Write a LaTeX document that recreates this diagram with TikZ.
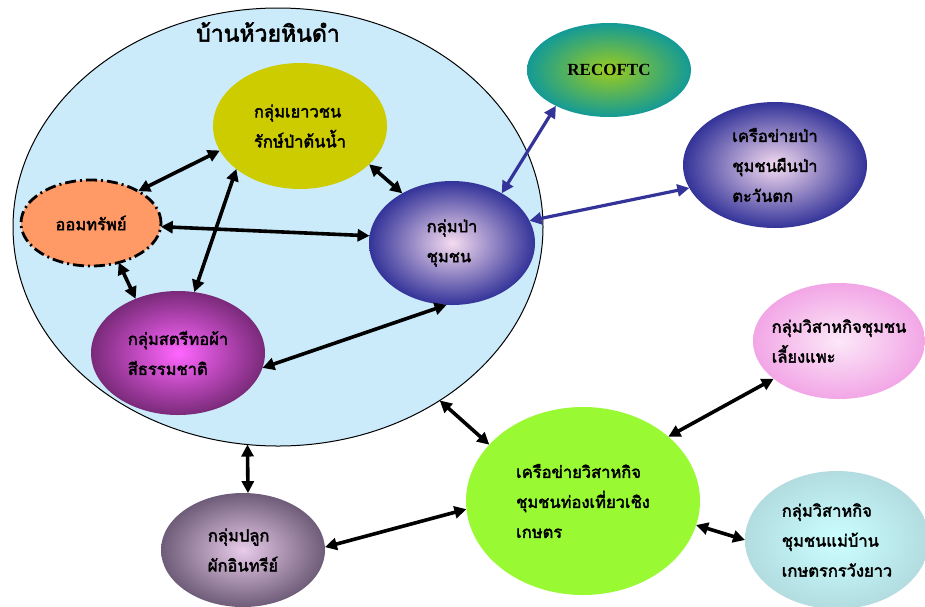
\documentclass[tikz,border=0pt]{standalone}
\usepackage{fontspec}
\setmainfont{Liberation Serif}
\newfontfamily\thai[Script=Thai,AutoFakeBold=2.5]{Loma}
\usetikzlibrary{shapes.geometric,arrows.meta}
\definecolor{bigc}{HTML}{CCEBFA}
\definecolor{yel}{HTML}{CCCC00}
\definecolor{ora}{HTML}{FF9966}
\definecolor{navyb}{HTML}{333399}
\definecolor{pinkin}{HTML}{F6DCF0}
\definecolor{magout}{HTML}{7A2A7A}
\definecolor{magin}{HTML}{FF66FF}
\definecolor{mauout}{HTML}{6E5C78}
\definecolor{mauin}{HTML}{E8CCEA}
\definecolor{tealout}{HTML}{139A96}
\definecolor{tealin}{HTML}{9CCC1E}
\definecolor{pkout}{HTML}{F2A6E6}
\definecolor{pkin}{HTML}{FCE8F8}
\definecolor{grn}{HTML}{99FA33}
\definecolor{cyout}{HTML}{B2DCE0}
\definecolor{cyin}{HTML}{CCFFFF}
\tikzset{
  ell/.style={ellipse, inner sep=0pt, outer sep=0pt, draw=none},
  txt/.style={font=\thai\bfseries\fontsize{16.5}{30}\selectfont, align=left, text=black, inner sep=0pt},
  biarrow/.style={{Triangle[length=12pt,width=12pt]}-{Triangle[length=12pt,width=12pt]}, line width=3.6pt, draw=black},
  bluearrow/.style={biarrow, line width=3.2pt, draw=navyb},
}
\begin{document}
\begin{tikzpicture}[x=1pt,y=-1pt]
\useasboundingbox (0,0) rectangle (925,606);
\clip (0,0) rectangle (925,606);
\fill[white] (0,0) rectangle (925,606);
% village circle
\node[ell, draw=black, line width=1pt, fill=bigc, minimum width=530pt, minimum height=438pt] (vill) at (278,227) {};
\node[font=\thai\bfseries\fontsize{23}{26}\selectfont, inner sep=0pt] (title) at (268,32) {บ้านห้วยหินดำ};
% inner groups
\node[ell, fill=yel, minimum width=174pt, minimum height=126pt,
  label={[txt]center:{กลุ่มเยาวชน\\รักษ์ป่าต้นน้ำ}}] (youth) at (300,126) {};
\node[ell, fill=ora, draw=black, line width=2.8pt, dash pattern=on 11pt off 4pt on 2pt off 4pt,
  minimum width=140pt, minimum height=86pt,
  label={[txt]center:{ออมทรัพย์}}] (save) at (91,223) {};
\node[ell, shade, inner color=pinkin, outer color=navyb, minimum width=166pt, minimum height=124pt,
  label={[txt]center:{กลุ่มป่า\\ชุมชน}}] (forest) at (452,243) {};
\node[ell, shade, inner color=magin, outer color=magout, minimum width=174pt, minimum height=124pt,
  label={[txt]center:{กลุ่มสตรีทอผ้า\\สีธรรมชาติ}}] (weave) at (178,353) {};
% outside groups
\node[ell, shade, inner color=mauin, outer color=mauout, minimum width=164pt, minimum height=114pt,
  label={[txt]center:{กลุ่มปลูก\\ผักอินทรีย์}}] (veg) at (243,550) {};
\node[ell, shade, inner color=tealin, outer color=tealout, minimum width=164pt, minimum height=94pt,
  label={[font=\bfseries\fontsize{17}{20}\selectfont, inner sep=0pt]center:{RECOFTC}}] (recoftc) at (609,70) {};
\node[ell, shade, inner color=pinkin, outer color=navyb, minimum width=184pt, minimum height=126pt,
  label={[txt]center:{เครือข่ายป่า\\ชุมชนผืนป่า\\ตะวันตก}}] (west) at (775,165) {};
\node[ell, shade, inner color=pkin, outer color=pkout, minimum width=172pt, minimum height=116pt,
  label={[txt]center:{กลุ่มวิสาหกิจชุมชน\\เลี้ยงแพะ}}] (goat) at (839,341) {};
\node[ell, fill=grn, minimum width=234pt, minimum height=188pt,
  label={[txt]center:{เครือข่ายวิสาหกิจ\\ชุมชนท่องเที่ยวเชิง\\เกษตร}}] (net) at (583,501) {};
\node[ell, shade, inner color=cyin, outer color=cyout, minimum width=184pt, minimum height=138pt,
  label={[txt]center:{กลุ่มวิสาหกิจ\\ชุมชนแม่บ้าน\\เกษตรกรวังยาว}}] (wives) at (837,540) {};
% connectors
\draw[biarrow] (save.34) -- (youth.197);
\draw[biarrow] (save.357) -- (forest.175);
\draw[biarrow] (youth.214) -- (weave.75);
\draw[biarrow] (youth.331) -- (forest.135);
\draw[biarrow] (save.305) -- (weave.128);
\draw[biarrow] (weave.350) -- (forest.265);
\draw[biarrow] (vill.262.3) -- (veg.85);
\draw[biarrow] (vill.313) -- (net.149);
\draw[biarrow] (veg.2) -- (net.184);
\draw[biarrow] (net.37) -- (goat.210);
\draw[biarrow] (net.348) -- (wives.180);
\draw[bluearrow] (forest.45) -- (recoftc.214);
\draw[bluearrow] (forest.16) -- (west.195);
\end{tikzpicture}
\end{document}
